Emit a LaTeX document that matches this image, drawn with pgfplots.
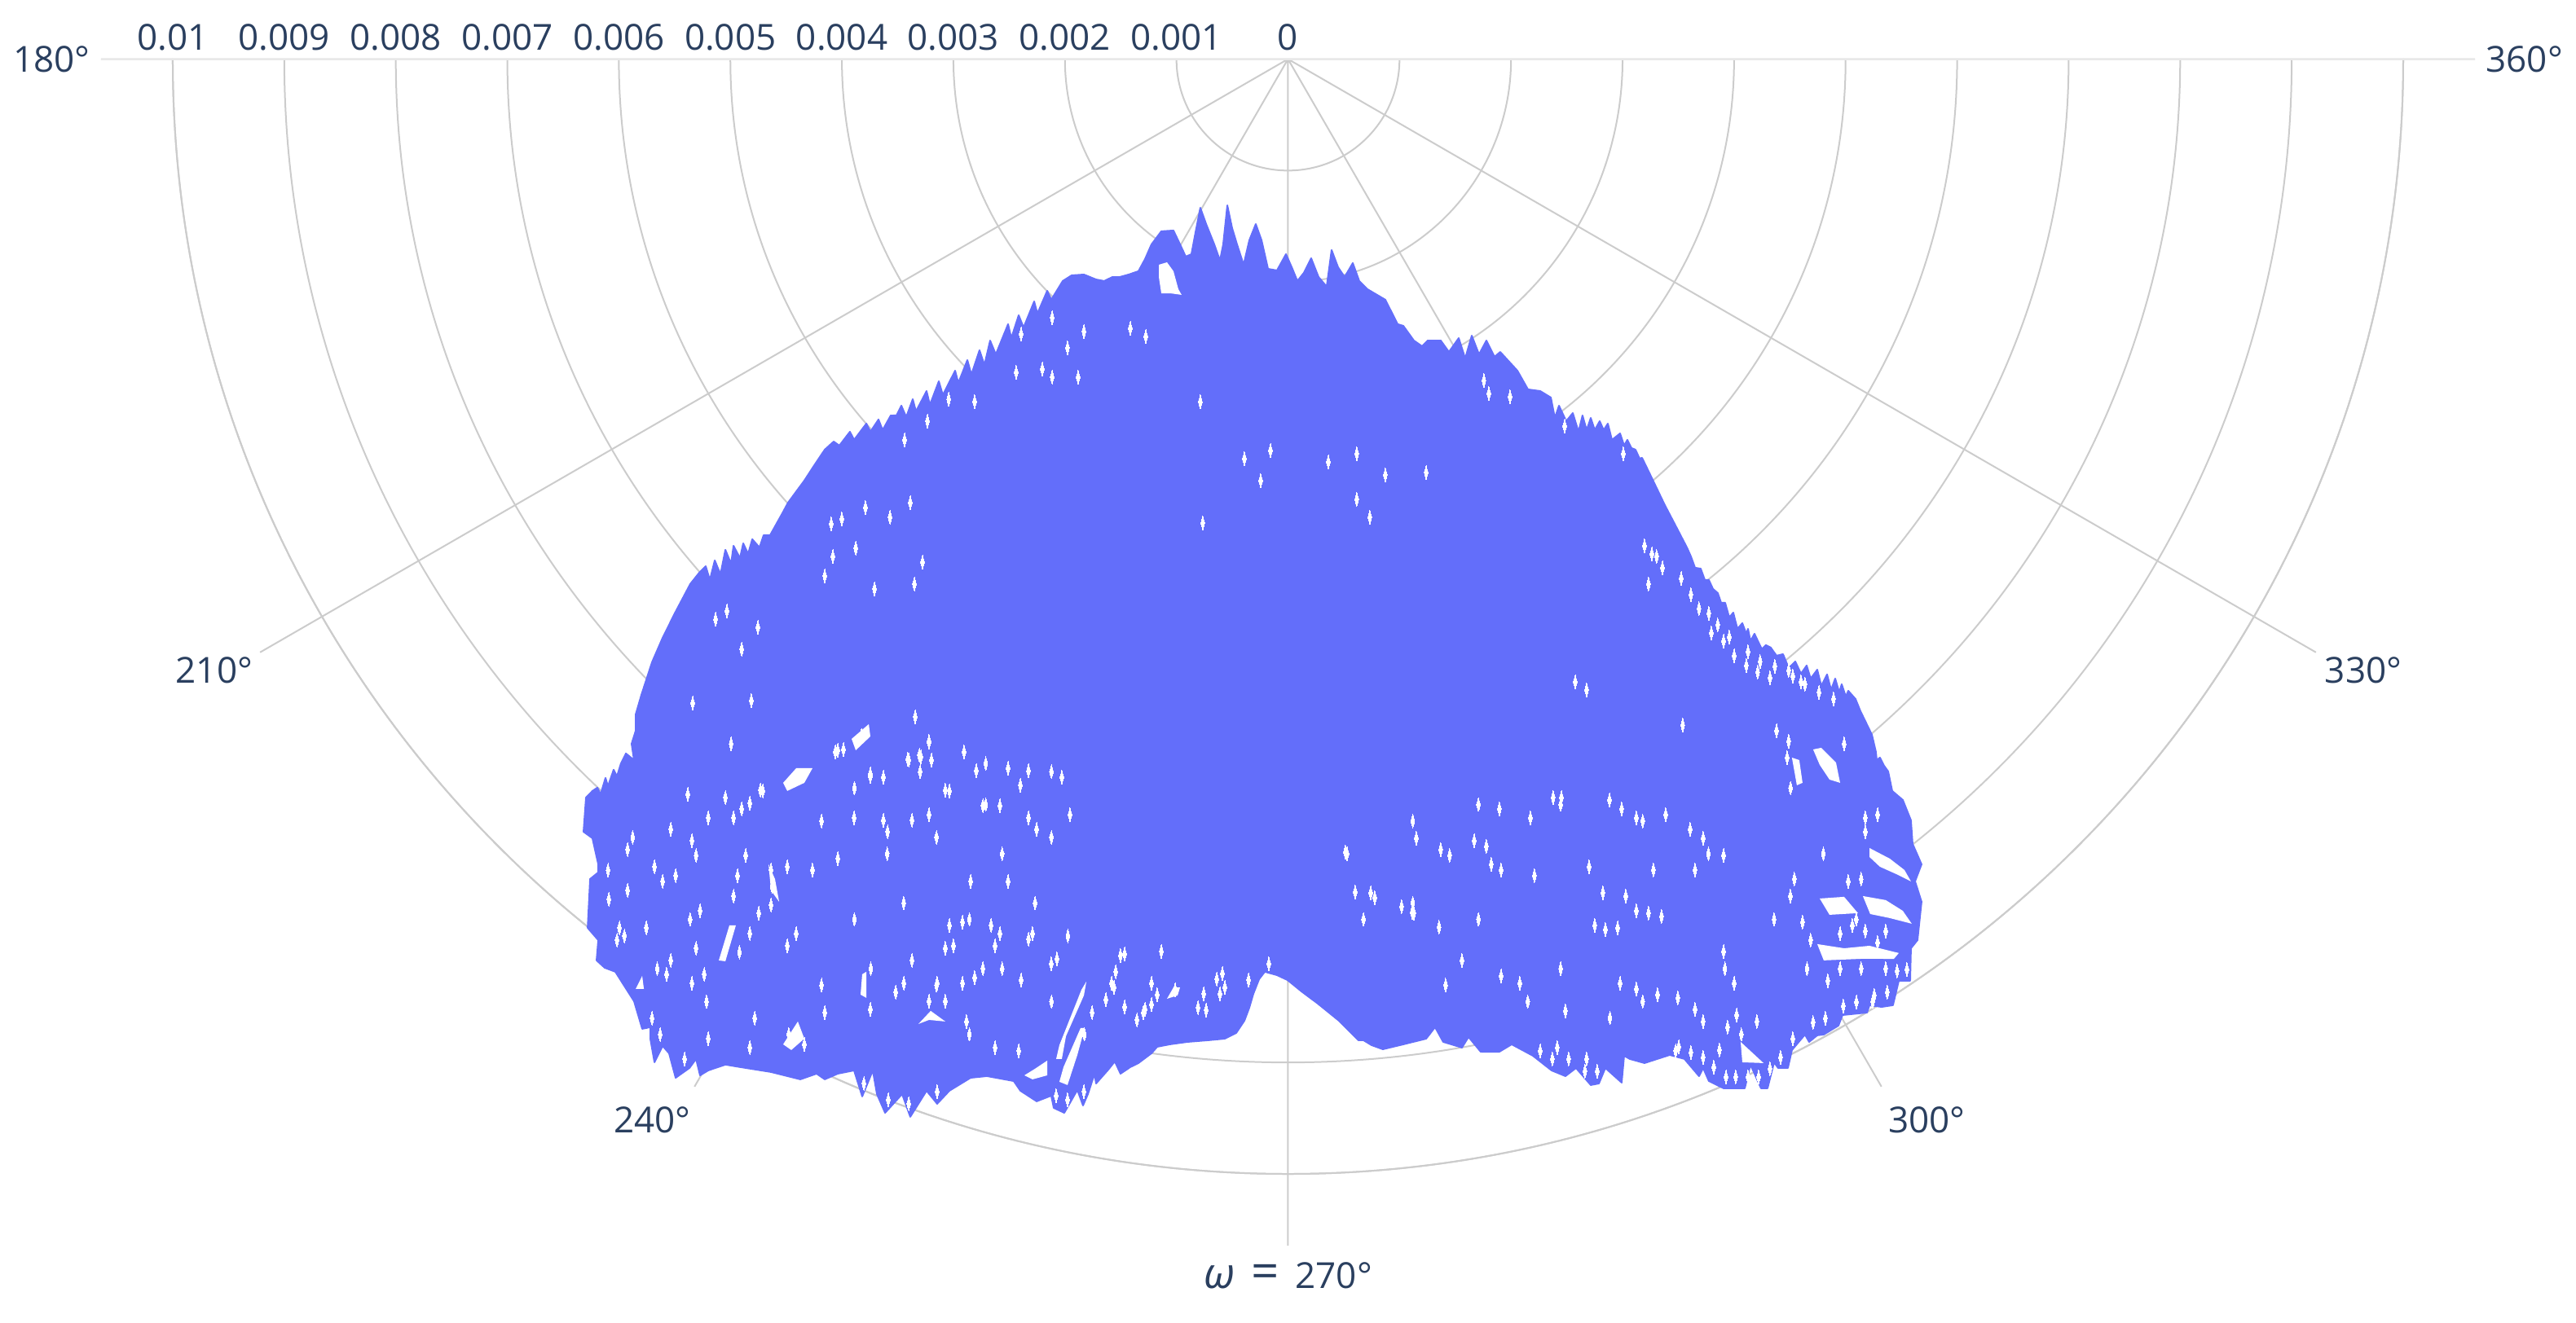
\documentclass[border=0pt]{standalone}
\usepackage{fontspec}
\setmainfont{Open Sans}
\usepackage{pgfplots}
\pgfplotsset{compat=1.18}
\usepgfplotslibrary{polar}
\definecolor{gridc}{HTML}{CCCCCC}
\definecolor{txt}{HTML}{2A3F5F}
\definecolor{trace}{HTML}{636EFA}
\definecolor{lightline}{HTML}{E8E8E8}
\pgfplotsset{hole/.style={fill=white,draw=none,forget plot}}
\begin{document}
\begin{tikzpicture}
\useasboundingbox (0,0) rectangle (790.25pt,-406pt);
\begin{polaraxis}[at={(395.125pt,-18.125pt)},anchor=origin,
 xmin=180,xmax=360,ymin=0,ymax=0.01,clip=false,
 width=684.25pt,scale only axis,
 xtick={180,210,240,270,300,330,360},
 xticklabels={180°,{\raisebox{3pt}{210°\hspace{4pt}}},{\raisebox{4pt}{240°\hspace{12pt}}},{\smash{\raisebox{2pt}{{\fontsize{13}{13}\selectfont\textit{ω}}\hspace{5pt}{\fontsize{15}{15}\selectfont=}\hspace{5pt}270°}}},{\raisebox{4pt}{\hspace{14pt}300°}},{\raisebox{3pt}{\hspace{5pt}330°}},360°},
 ytick={0,0.001,0.002,0.003,0.004,0.005,0.006,0.007,0.008,0.009,0.01},
 grid=both, major grid style={gridc,line width=0.5pt},
 axis line style={gridc,line width=0.5pt},
 xtick style={gridc,line width=0.5pt},
 ytick style={draw=none},
 major tick length=22pt,
 font=\fontsize{11}{13}\selectfont,
 /pgf/number format/assume math mode=true,
 yticklabel style={/pgf/number format/fixed,/pgf/number format/precision=3,text=txt,anchor=south,inner sep=2.5pt},
 xticklabel style={text=txt,circle,inner sep=0pt,minimum size=74pt,align=center},
 scaled y ticks=false,
]
\addplot[lightline,line width=0.5pt,forget plot] coordinates {(180,0.01064) (180,0)};
\addplot[lightline,line width=0.5pt,forget plot] coordinates {(360,0.01064) (360,0)};
\addplot[data cs=cart,fill=trace,draw=trace,line width=0.5pt,line join=round] table {
-3511e-6 -3197e-6
-3467e-6 -3109e-6
-3423e-6 -3211e-6
-3365e-6 -3051e-6
-3336e-6 -3160e-6
-3241e-6 -2978e-6
-3211e-6 -3102e-6
-3131e-6 -2890e-6
-3095e-6 -3014e-6
-2985e-6 -2795e-6
-2956e-6 -2905e-6
-2875e-6 -2700e-6
-2839e-6 -2831e-6
-2766e-6 -2612e-6
-2722e-6 -2744e-6
-2671e-6 -2525e-6
-2620e-6 -2649e-6
-2510e-6 -2378e-6
-2481e-6 -2503e-6
-2415e-6 -2298e-6
-2371e-6 -2408e-6
-2276e-6 -2174e-6
-2247e-6 -2283e-6
-2159e-6 -2079e-6
-2123e-6 -2159e-6
-2020e-6 -1991e-6
-1940e-6 -1940e-6
-1830e-6 -1933e-6
-1721e-6 -1977e-6
-1648e-6 -1991e-6
-1575e-6 -1955e-6
-1509e-6 -1955e-6
-1429e-6 -1933e-6
-1341e-6 -1903e-6
-1282e-6 -1794e-6
-1224e-6 -1662e-6
-1136e-6 -1545e-6
-1027e-6 -1538e-6
-968e-6 -1662e-6
-917e-6 -1772e-6
-866e-6 -1750e-6
-829e-6 -1553e-6
-786e-6 -1334e-6
-734e-6 -1480e-6
-661e-6 -1662e-6
-610e-6 -1808e-6
-581e-6 -1662e-6
-544e-6 -1312e-6
-501e-6 -1516e-6
-457e-6 -1662e-6
-398e-6 -1845e-6
-347e-6 -1626e-6
-289e-6 -1480e-6
-237e-6 -1626e-6
-179e-6 -1882e-6
-99e-6 -1896e-6
-18e-6 -1750e-6
40e-6 -1882e-6
84e-6 -1991e-6
142e-6 -1918e-6
208e-6 -1787e-6
274e-6 -1955e-6
347e-6 -2042e-6
391e-6 -1713e-6
449e-6 -1867e-6
508e-6 -1955e-6
581e-6 -1830e-6
639e-6 -1991e-6
712e-6 -2064e-6
873e-6 -2159e-6
983e-6 -2378e-6
1034e-6 -2393e-6
1129e-6 -2525e-6
1202e-6 -2576e-6
1253e-6 -2525e-6
1370e-6 -2525e-6
1443e-6 -2627e-6
1531e-6 -2503e-6
1589e-6 -2685e-6
1648e-6 -2481e-6
1713e-6 -2649e-6
1779e-6 -2525e-6
1852e-6 -2671e-6
1903e-6 -2627e-6
2057e-6 -2795e-6
2152e-6 -2963e-6
2262e-6 -2978e-6
2357e-6 -3036e-6
2393e-6 -3219e-6
2430e-6 -3109e-6
2495e-6 -3248e-6
2554e-6 -3175e-6
2605e-6 -3343e-6
2641e-6 -3197e-6
2678e-6 -3328e-6
2715e-6 -3219e-6
2751e-6 -3328e-6
2795e-6 -3248e-6
2831e-6 -3328e-6
2868e-6 -3270e-6
2905e-6 -3416e-6
2978e-6 -3358e-6
3014e-6 -3467e-6
3043e-6 -3416e-6
3080e-6 -3489e-6
3116e-6 -3504e-6
3153e-6 -3584e-6
3175e-6 -3577e-6
3263e-6 -3759e-6
3379e-6 -4001e-6
3482e-6 -4198e-6
3577e-6 -4381e-6
3613e-6 -4461e-6
3650e-6 -4563e-6
3701e-6 -4571e-6
3738e-6 -4673e-6
3774e-6 -4673e-6
3811e-6 -4753e-6
3854e-6 -4790e-6
3884e-6 -4877e-6
3920e-6 -4877e-6
3957e-6 -5009e-6
3993e-6 -4965e-6
4030e-6 -5111e-6
4074e-6 -5060e-6
4110e-6 -5155e-6
4125e-6 -5111e-6
4147e-6 -5221e-6
4183e-6 -5155e-6
4249e-6 -5294e-6
4286e-6 -5257e-6
4329e-6 -5279e-6
4381e-6 -5352e-6
4439e-6 -5338e-6
4490e-6 -5462e-6
4549e-6 -5404e-6
4600e-6 -5513e-6
4651e-6 -5440e-6
4687e-6 -5557e-6
4746e-6 -5477e-6
4782e-6 -5623e-6
4834e-6 -5520e-6
4870e-6 -5659e-6
4907e-6 -5557e-6
4943e-6 -5681e-6
4965e-6 -5608e-6
5002e-6 -5718e-6
5024e-6 -5667e-6
5089e-6 -5740e-6
5133e-6 -5849e-6
5236e-6 -6061e-6
5272e-6 -6215e-6
5279e-6 -6288e-6
5308e-6 -6266e-6
5345e-6 -6339e-6
5382e-6 -6390e-6
5418e-6 -6565e-6
5513e-6 -6646e-6
5586e-6 -6828e-6
5601e-6 -7040e-6
5681e-6 -7223e-6
5623e-6 -7376e-6
5681e-6 -7559e-6
5645e-6 -7903e-6
5586e-6 -7976e-6
5579e-6 -8268e-6
5477e-6 -8268e-6
5425e-6 -8487e-6
5323e-6 -8502e-6
5214e-6 -8487e-6
5192e-6 -8553e-6
4972e-6 -8575e-6
4936e-6 -8670e-6
4804e-6 -8750e-6
4746e-6 -8757e-6
4673e-6 -8816e-6
4636e-6 -8750e-6
4519e-6 -8889e-6
4483e-6 -9050e-6
4395e-6 -9050e-6
4359e-6 -8999e-6
4300e-6 -9232e-6
4242e-6 -9232e-6
4147e-6 -9020e-6
4096e-6 -9232e-6
3906e-6 -9232e-6
3774e-6 -9167e-6
3723e-6 -9050e-6
3686e-6 -9123e-6
3555e-6 -8969e-6
3423e-6 -8933e-6
3197e-6 -9006e-6
3065e-6 -8969e-6
3014e-6 -8940e-6
2992e-6 -9181e-6
2846e-6 -9050e-6
2788e-6 -9189e-6
2715e-6 -9203e-6
2583e-6 -9050e-6
2488e-6 -9123e-6
2364e-6 -9072e-6
2196e-6 -8940e-6
2006e-6 -8838e-6
1896e-6 -8904e-6
1728e-6 -8904e-6
1619e-6 -8772e-6
1560e-6 -8867e-6
1465e-6 -8838e-6
1392e-6 -8816e-6
1319e-6 -8684e-6
1239e-6 -8787e-6
1034e-6 -8838e-6
851e-6 -8882e-6
749e-6 -8845e-6
676e-6 -8801e-6
632e-6 -8801e-6
457e-6 -8626e-6
267e-6 -8472e-6
121e-6 -8363e-6
-4e-6 -8261e-6
-99e-6 -8217e-6
-208e-6 -8187e-6
-259e-6 -8253e-6
-311e-6 -8385e-6
-347e-6 -8509e-6
-391e-6 -8626e-6
-464e-6 -8735e-6
-566e-6 -8787e-6
-712e-6 -8801e-6
-902e-6 -8816e-6
-1063e-6 -8838e-6
-1173e-6 -8860e-6
-1224e-6 -8918e-6
-1341e-6 -9006e-6
-1414e-6 -9042e-6
-1502e-6 -9101e-6
-1553e-6 -8991e-6
-1611e-6 -9064e-6
-1721e-6 -9189e-6
-1735e-6 -9101e-6
-1794e-6 -9284e-6
-1838e-6 -9386e-6
-1889e-6 -9247e-6
-2006e-6 -9452e-6
-2101e-6 -9408e-6
-2123e-6 -9298e-6
-2254e-6 -9349e-6
-2400e-6 -9254e-6
-2459e-6 -9167e-6
-2700e-6 -9123e-6
-2846e-6 -9138e-6
-3036e-6 -9254e-6
-3146e-6 -9371e-6
-3241e-6 -9254e-6
-3387e-6 -9488e-6
-3460e-6 -9284e-6
-3613e-6 -9452e-6
-3686e-6 -9284e-6
-3723e-6 -9072e-6
-3818e-6 -9305e-6
-3891e-6 -9072e-6
-4037e-6 -9101e-6
-4154e-6 -9152e-6
-4227e-6 -9101e-6
-4373e-6 -9152e-6
-4490e-6 -9123e-6
-4636e-6 -9086e-6
-4863e-6 -9050e-6
-5045e-6 -9020e-6
-5199e-6 -9072e-6
-5272e-6 -9116e-6
-5308e-6 -8969e-6
-5367e-6 -9050e-6
-5491e-6 -9138e-6
-5550e-6 -8918e-6
-5608e-6 -8852e-6
-5681e-6 -8999e-6
-5718e-6 -8787e-6
-5718e-6 -8684e-6
-5791e-6 -8699e-6
-5864e-6 -8451e-6
-6032e-6 -8187e-6
-6127e-6 -8151e-6
-6200e-6 -8085e-6
-6185e-6 -7903e-6
-6280e-6 -7793e-6
-6258e-6 -7355e-6
-6185e-6 -7296e-6
-6185e-6 -7223e-6
-6237e-6 -6989e-6
-6317e-6 -6931e-6
-6295e-6 -6624e-6
-6237e-6 -6565e-6
-6193e-6 -6536e-6
-6164e-6 -6595e-6
-6120e-6 -6448e-6
-6098e-6 -6522e-6
-6047e-6 -6375e-6
-6017e-6 -6434e-6
-5981e-6 -6317e-6
-5937e-6 -6229e-6
-5864e-6 -6288e-6
-5886e-6 -6142e-6
-5849e-6 -6025e-6
-5849e-6 -5878e-6
-5798e-6 -5703e-6
-5703e-6 -5411e-6
-5608e-6 -5192e-6
-5499e-6 -4972e-6
-5360e-6 -4709e-6
-5279e-6 -4607e-6
-5221e-6 -4549e-6
-5184e-6 -4673e-6
-5140e-6 -4497e-6
-5089e-6 -4622e-6
-5045e-6 -4402e-6
-4994e-6 -4527e-6
-4972e-6 -4366e-6
-4914e-6 -4476e-6
-4885e-6 -4344e-6
-4841e-6 -4439e-6
-4804e-6 -4307e-6
-4739e-6 -4381e-6
-4702e-6 -4271e-6
-4644e-6 -4271e-6
-4534e-6 -4074e-6
-4483e-6 -3979e-6
-4337e-6 -3781e-6
-4242e-6 -3635e-6
-4154e-6 -3504e-6
-4074e-6 -3431e-6
-4023e-6 -3467e-6
-3928e-6 -3343e-6
-3891e-6 -3416e-6
-3781e-6 -3270e-6
-3745e-6 -3343e-6
-3672e-6 -3233e-6
-3635e-6 -3328e-6
-3562e-6 -3197e-6
} --cycle;
\addplot[data cs=cart,hole] coordinates {(-1158e-6,-1845e-6) (-1085e-6,-1823e-6) (-1027e-6,-1903e-6) (-983e-6,-2064e-6) (-954e-6,-2115e-6) (-1056e-6,-2101e-6) (-1136e-6,-2101e-6) (-1158e-6,-1955e-6)} --cycle;
\addplot[data cs=cart,hole] coordinates {(5214e-6,-7077e-6) (5396e-6,-7172e-6) (5528e-6,-7274e-6) (5586e-6,-7376e-6) (5455e-6,-7311e-6) (5308e-6,-7245e-6) (5214e-6,-7157e-6)} --cycle;
\addplot[data cs=cart,hole] coordinates {(4768e-6,-7530e-6) (4987e-6,-7515e-6) (5111e-6,-7661e-6) (4856e-6,-7676e-6)} --cycle;
\addplot[data cs=cart,hole] coordinates {(5155e-6,-7508e-6) (5360e-6,-7544e-6) (5513e-6,-7640e-6) (5593e-6,-7756e-6) (5396e-6,-7705e-6) (5221e-6,-7669e-6)} --cycle;
\addplot[data cs=cart,hole] coordinates {(4746e-6,-7939e-6) (4987e-6,-7976e-6) (5214e-6,-7954e-6) (5477e-6,-8019e-6) (5433e-6,-8071e-6) (5140e-6,-8071e-6) (4804e-6,-8085e-6)} --cycle;
\addplot[data cs=cart,hole] coordinates {(4709e-6,-6193e-6) (4782e-6,-6178e-6) (4914e-6,-6310e-6) (4951e-6,-6492e-6) (4856e-6,-6463e-6) (4768e-6,-6331e-6)} --cycle;
\addplot[data cs=cart,hole] coordinates {(4519e-6,-6266e-6) (4585e-6,-6288e-6) (4614e-6,-6492e-6) (4563e-6,-6514e-6)} --cycle;
\addplot[data cs=cart,hole] coordinates {(4059e-6,-8816e-6) (4264e-6,-9006e-6) (4074e-6,-8999e-6)} --cycle;
\addplot[data cs=cart,hole] coordinates {(-4527e-6,-6492e-6) (-4410e-6,-6361e-6) (-4264e-6,-6361e-6) (-4337e-6,-6492e-6) (-4490e-6,-6565e-6)} --cycle;
\addplot[data cs=cart,hole] coordinates {(-3913e-6,-6098e-6) (-3759e-6,-5966e-6) (-3745e-6,-6076e-6) (-3876e-6,-6200e-6)} --cycle;
\addplot[data cs=cart,hole] coordinates {(-2079e-6,-8969e-6) (-2050e-6,-8845e-6) (-1852e-6,-8348e-6) (-1808e-6,-8275e-6) (-1830e-6,-8399e-6) (-1991e-6,-8765e-6) (-2028e-6,-8969e-6)} --cycle;
\addplot[data cs=cart,hole] coordinates {(-2050e-6,-9174e-6) (-2013e-6,-9042e-6) (-1860e-6,-8692e-6) (-1823e-6,-8692e-6) (-1889e-6,-8933e-6) (-1977e-6,-9203e-6)} --cycle;
\addplot[data cs=cart,hole] coordinates {(-2364e-6,-9116e-6) (-2269e-6,-9057e-6) (-2159e-6,-8984e-6) (-2159e-6,-9116e-6) (-2291e-6,-9152e-6)} --cycle;
\addplot[data cs=cart,hole] coordinates {(-4527e-6,-8838e-6) (-4395e-6,-8633e-6) (-4337e-6,-8787e-6) (-4454e-6,-8889e-6)} --cycle;
\addplot[data cs=cart,hole] coordinates {(-3314e-6,-8655e-6) (-3204e-6,-8538e-6) (-3073e-6,-8633e-6) (-3219e-6,-8619e-6)} --cycle;
\addplot[data cs=cart,hole] coordinates {(-3818e-6,-8209e-6) (-3781e-6,-8187e-6) (-3781e-6,-8421e-6) (-3833e-6,-8392e-6)} --cycle;
\addplot[data cs=cart,hole] coordinates {(-5104e-6,-8085e-6) (-5009e-6,-7771e-6) (-4951e-6,-7771e-6) (-5045e-6,-8093e-6)} --cycle;
\addplot[data cs=cart,hole] coordinates {(-4658e-6,-7223e-6) (-4600e-6,-7355e-6) (-4563e-6,-7559e-6) (-4636e-6,-7457e-6)} --cycle;
\addplot[data cs=cart,hole] coordinates {(-5849e-6,-8341e-6) (-5791e-6,-8224e-6) (-5776e-6,-8341e-6)} --cycle;
\addplot[data cs=cart,hole] coordinates {(-1085e-6,-8429e-6) (-1027e-6,-8327e-6) (-968e-6,-8327e-6) (-990e-6,-8399e-6)} --cycle;
\addplot[data cs=cart,white,only marks,forget plot,mark=diamond*,mark size=1.3pt,mark options={white,solid,fill=white,draw=white,line width=0pt,xscale=0.6,yscale=1.6}] table {
-5922e-6 -7091e-6
-5681e-6 -7245e-6
-5608e-6 -7376e-6
-5922e-6 -7457e-6
-6090e-6 -7537e-6
-5995e-6 -7793e-6
-5754e-6 -7793e-6
-6017e-6 -7903e-6
-5491e-6 -7325e-6
-5308e-6 -7143e-6
-5345e-6 -7011e-6
-5535e-6 -6909e-6
-5382e-6 -6595e-6
-5045e-6 -6624e-6
-5199e-6 -6806e-6
-4972e-6 -6806e-6
-4899e-6 -6726e-6
-4709e-6 -6565e-6
-4826e-6 -6675e-6
-4936e-6 -7325e-6
-4863e-6 -7143e-6
-4636e-6 -7274e-6
-4972e-6 -7508e-6
-5272e-6 -7640e-6
-4746e-6 -7661e-6
-4636e-6 -7588e-6
-4410e-6 -7844e-6
-4490e-6 -7954e-6
-4826e-6 -7844e-6
-5308e-6 -7976e-6
-5235e-6 -8209e-6
-5535e-6 -8085e-6
-5572e-6 -8209e-6
-5345e-6 -8290e-6
-4490e-6 -7245e-6
-4264e-6 -7274e-6
-4037e-6 -7172e-6
-3891e-6 -6806e-6
-3628e-6 -6828e-6
-3591e-6 -6931e-6
-3372e-6 -6828e-6
-3219e-6 -6777e-6
-3036e-6 -6565e-6
-2736e-6 -6697e-6
-2583e-6 -6697e-6
-2400e-6 -6514e-6
-2028e-6 -6441e-6
-2327e-6 -6806e-6
-1955e-6 -6777e-6
-2254e-6 -6909e-6
-2795e-6 -6383e-6
-2510e-6 -6361e-6
-2327e-6 -6383e-6
-3219e-6 -6127e-6
-3409e-6 -6280e-6
-3292e-6 -6259e-6
-3745e-6 -6412e-6
-3628e-6 -6441e-6
-4037e-6 -6200e-6
-2919e-6 -7742e-6
-3036e-6 -7771e-6
-2663e-6 -7771e-6
-2583e-6 -7844e-6
-3000e-6 -7954e-6
-3073e-6 -7976e-6
-2810e-6 -8239e-6
-2627e-6 -7954e-6
-2736e-6 -8158e-6
-2919e-6 -8290e-6
-3146e-6 -8290e-6
-3518e-6 -8370e-6
-3372e-6 -8085e-6
-3445e-6 -8290e-6
-3219e-6 -8451e-6
-3073e-6 -8451e-6
-2883e-6 -8633e-6
-3745e-6 -8524e-6
-4154e-6 -8553e-6
-4782e-6 -8604e-6
-5199e-6 -8787e-6
-4826e-6 -8867e-6
-4337e-6 -8838e-6
-2627e-6 -8867e-6
-2846e-6 -7376e-6
-2510e-6 -7376e-6
-1465e-6 -8027e-6
-1545e-6 -8187e-6
-1582e-6 -8290e-6
-1173e-6 -8392e-6
-1282e-6 -8524e-6
-1465e-6 -8502e-6
-2291e-6 -7844e-6
-2393e-6 -8261e-6
-2123e-6 -8115e-6
-2072e-6 -8071e-6
-2327e-6 -7895e-6
-1502e-6 -8041e-6
-1560e-6 -8327e-6
-1633e-6 -8436e-6
-1757e-6 -8553e-6
-1224e-6 -8290e-6
-1136e-6 -8005e-6
-1224e-6 -8480e-6
-1297e-6 -8553e-6
-1355e-6 -8619e-6
-1012e-6 -8348e-6
-807e-6 -8509e-6
-756e-6 -8385e-6
-734e-6 -8531e-6
-639e-6 -8253e-6
-588e-6 -8202e-6
-610e-6 -8385e-6
-566e-6 -8327e-6
-354e-6 -8261e-6
-172e-6 -8115e-6
1114e-6 -7654e-6
778e-6 -7523e-6
603e-6 -7472e-6
1019e-6 -7603e-6
1896e-6 -6726e-6
2174e-6 -6806e-6
2378e-6 -6624e-6
2883e-6 -6646e-6
2992e-6 -6726e-6
2452e-6 -6624e-6
3124e-6 -6806e-6
3387e-6 -6777e-6
3606e-6 -6909e-6
3723e-6 -6989e-6
3906e-6 -7143e-6
3650e-6 -7274e-6
1670e-6 -7011e-6
1450e-6 -7143e-6
1370e-6 -7091e-6
1151e-6 -6989e-6
1823e-6 -7223e-6
1911e-6 -7274e-6
2210e-6 -7325e-6
2700e-6 -7245e-6
2824e-6 -7479e-6
3029e-6 -7508e-6
3277e-6 -7274e-6
3350e-6 -7691e-6
3124e-6 -7640e-6
3233e-6 -7661e-6
2956e-6 -7793e-6
2846e-6 -7808e-6
2751e-6 -7771e-6
3906e-6 -8005e-6
4001e-6 -8290e-6
3650e-6 -8524e-6
3496e-6 -8421e-6
3314e-6 -8392e-6
3124e-6 -8341e-6
2978e-6 -8290e-6
2488e-6 -8538e-6
1911e-6 -8224e-6
2079e-6 -8290e-6
1560e-6 -8085e-6
1129e-6 -7661e-6
1355e-6 -7786e-6
742e-6 -7479e-6
1779e-6 -7062e-6
515e-6 -7113e-6
4505e-6 -7508e-6
4614e-6 -7742e-6
4687e-6 -7903e-6
4541e-6 -7355e-6
5024e-6 -7376e-6
5140e-6 -7355e-6
5177e-6 -6931e-6
5177e-6 -6806e-6
5287e-6 -6777e-6
4023e-6 -8575e-6
4205e-6 -8633e-6
3869e-6 -8889e-6
3942e-6 -8684e-6
3723e-6 -8633e-6
2415e-6 -8867e-6
2678e-6 -8969e-6
4841e-6 -8268e-6
4951e-6 -7844e-6
5177e-6 -7822e-6
5360e-6 -7822e-6
5060e-6 -7771e-6
5287e-6 -7924e-6
4951e-6 -8158e-6
5140e-6 -8158e-6
5360e-6 -8158e-6
-3789e-6 -4023e-6
-3876e-6 -4388e-6
-4001e-6 -4125e-6
-4096e-6 -4169e-6
-3569e-6 -4110e-6
-4154e-6 -4636e-6
-4081e-6 -4461e-6
-3387e-6 -3979e-6
-3708e-6 -4753e-6
-3350e-6 -4709e-6
-3277e-6 -4512e-6
-5133e-6 -5024e-6
-5031e-6 -4951e-6
-4899e-6 -5294e-6
-4753e-6 -5097e-6
-3219e-6 -6120e-6
-3825e-6 -6068e-6
-3986e-6 -6193e-6
-4059e-6 -6215e-6
-3401e-6 -6288e-6
-3306e-6 -6244e-6
-3745e-6 -6434e-6
-4731e-6 -6558e-6
-3073e-6 -6558e-6
-2905e-6 -6215e-6
-3197e-6 -6288e-6
-4812e-6 -5754e-6
-5338e-6 -5776e-6
-4994e-6 -6142e-6
-3343e-6 -5900e-6
-1830e-6 -2444e-6
-1977e-6 -2590e-6
-2203e-6 -2780e-6
-2115e-6 -2853e-6
-2437e-6 -2810e-6
-1882e-6 -2853e-6
-1414e-6 -2415e-6
-1275e-6 -2488e-6
-786e-6 -3073e-6
1801e-6 -3000e-6
1991e-6 -3029e-6
1757e-6 -2883e-6
-2810e-6 -3073e-6
-3233e-6 -3248e-6
-3438e-6 -3416e-6
-3043e-6 -3051e-6
-2115e-6 -2320e-6
-2393e-6 -2466e-6
-391e-6 -3584e-6
-157e-6 -3511e-6
-245e-6 -3781e-6
617e-6 -3540e-6
1239e-6 -3708e-6
734e-6 -4110e-6
-764e-6 -4161e-6
617e-6 -3949e-6
873e-6 -3730e-6
362e-6 -3613e-6
3197e-6 -4366e-6
3263e-6 -4439e-6
3306e-6 -4461e-6
3233e-6 -4709e-6
3358e-6 -4563e-6
3526e-6 -4658e-6
3613e-6 -4804e-6
3686e-6 -4929e-6
3774e-6 -4972e-6
3854e-6 -5075e-6
3796e-6 -5148e-6
3957e-6 -5184e-6
3906e-6 -5221e-6
4001e-6 -5352e-6
4110e-6 -5440e-6
4212e-6 -5499e-6
4322e-6 -5550e-6
4490e-6 -5484e-6
4600e-6 -5586e-6
4381e-6 -6025e-6
4490e-6 -6120e-6
4987e-6 -6142e-6
2576e-6 -5586e-6
2678e-6 -5659e-6
3540e-6 -5974e-6
2481e-6 -3292e-6
3007e-6 -3540e-6
4476e-6 -6266e-6
2262e-6 -8896e-6
2371e-6 -8969e-6
2517e-6 -8969e-6
2663e-6 -9079e-6
2773e-6 -9079e-6
3504e-6 -8860e-6
3613e-6 -8911e-6
3723e-6 -8955e-6
3818e-6 -9042e-6
3928e-6 -9130e-6
4015e-6 -9130e-6
4125e-6 -9130e-6
4220e-6 -9130e-6
4322e-6 -9057e-6
4417e-6 -8955e-6
4527e-6 -8787e-6
4709e-6 -8641e-6
4819e-6 -8604e-6
4980e-6 -8494e-6
5097e-6 -8458e-6
5257e-6 -8399e-6
5374e-6 -8370e-6
5550e-6 -8166e-6
5462e-6 -8180e-6
-3584e-6 -9335e-6
-3401e-6 -9371e-6
-3146e-6 -9262e-6
-3803e-6 -9189e-6
-2079e-6 -9298e-6
-1977e-6 -9335e-6
-1830e-6 -9262e-6
-5411e-6 -8969e-6
-5630e-6 -8750e-6
-5703e-6 -8604e-6
4125e-6 -5316e-6
4234e-6 -5404e-6
4366e-6 -5447e-6
4527e-6 -5535e-6
4636e-6 -5608e-6
4761e-6 -5681e-6
4892e-6 -5740e-6
-3888e-6 -6539e-6
-3299e-6 -6392e-6
-2710e-6 -6318e-6
-2121e-6 -6392e-6
-4183e-6 -6834e-6
-4625e-6 -7423e-6
-4919e-6 -8012e-6
-5214e-6 -8454e-6
-3594e-6 -7128e-6
-3888e-6 -7717e-6
-4183e-6 -8307e-6
-4477e-6 -8748e-6
-2710e-6 -6687e-6
-3152e-6 -6981e-6
-3446e-6 -7570e-6
-3741e-6 -8159e-6
-2563e-6 -7128e-6
-2857e-6 -7717e-6
-3152e-6 -8307e-6
-2121e-6 -6981e-6
-2268e-6 -7570e-6
-2563e-6 -8159e-6
-2857e-6 -8748e-6
-1974e-6 -7865e-6
-2121e-6 -8454e-6
-2415e-6 -8896e-6
-1826e-6 -8748e-6
-5361e-6 -7717e-6
-5656e-6 -8159e-6
-5950e-6 -7865e-6
-6097e-6 -7276e-6
-5876e-6 -6981e-6
530e-6 -7128e-6
1119e-6 -6834e-6
1708e-6 -6687e-6
2445e-6 -6687e-6
3181e-6 -6834e-6
3770e-6 -7128e-6
4359e-6 -7717e-6
3918e-6 -8159e-6
3181e-6 -8454e-6
2445e-6 -8159e-6
1708e-6 -7717e-6
1119e-6 -7570e-6
677e-6 -7717e-6
4654e-6 -8159e-6
5096e-6 -7717e-6
4801e-6 -7128e-6
4507e-6 -6539e-6
5243e-6 -8454e-6
4065e-6 -8748e-6
3476e-6 -8896e-6
2887e-6 -8601e-6
2150e-6 -8454e-6
1414e-6 -8307e-6
};
\end{polaraxis}
\end{tikzpicture}
\end{document}
